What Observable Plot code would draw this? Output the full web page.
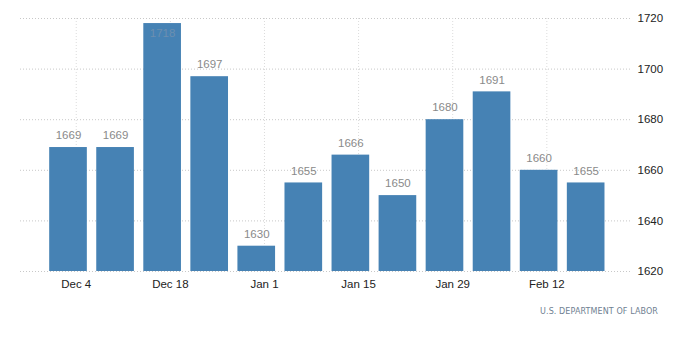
<!DOCTYPE html>
<html>
<head>
<meta charset="utf-8">
<script src="https://cdn.jsdelivr.net/npm/d3@7"></script>
<script src="https://cdn.jsdelivr.net/npm/@observablehq/plot@0.6"></script>
<style>
  body { margin: 0; background: #fff; font-family: "Liberation Sans", Arial, sans-serif; }
  #wrap { position: relative; width: 700px; height: 362px; }
  #caption { position: absolute; right: 42px; top: 307px; font-size: 8px; letter-spacing: 0.1px; color: #6f7f92; font-family: "DejaVu Sans", sans-serif; }
</style>
</head>
<body>
<div id="wrap">
  <div id="chart"></div>
  <div id="caption">U.S. DEPARTMENT OF LABOR</div>
</div>
<script>
const dates = ["2021-12-04","2021-12-11","2021-12-18","2021-12-25","2022-01-01","2022-01-08","2022-01-15","2022-01-22","2022-01-29","2022-02-05","2022-02-12","2022-02-19"];
const values = [1669, 1669, 1718, 1697, 1630, 1655, 1666, 1650, 1680, 1691, 1660, 1655];
const xTicks = ["2021-12-04","2021-12-18","2022-01-01","2022-01-15","2022-01-29","2022-02-12"];
const yTicks = [1620, 1640, 1660, 1680, 1700, 1720];

const DAY = 864e5;
const data = dates.map((d, i) => ({date: new Date(d), value: values[i]}));

const chart = Plot.plot({
  width: 700,
  height: 296,
  marginLeft: 20,
  marginRight: 73,
  marginTop: 18,
  marginBottom: 25,
  style: {fontFamily: "'Liberation Sans', Arial, sans-serif", fontSize: "11px", background: "#fff"},
  x: {type: "utc", domain: [new Date("2021-11-25T17:00Z"), new Date("2022-02-24T00:00Z")]},
  y: {domain: [1620, 1720]},
  marks: [
    Plot.gridY(yTicks, {stroke: "#c8c8c8", strokeOpacity: 1, strokeDasharray: "1,2", x1: () => new Date("2021-11-25T17:00Z"), x2: () => new Date("2022-02-24T18:00Z"), clip: false}),
    Plot.gridX(xTicks.map(d => new Date(d)), {stroke: "#dcdcdc", strokeOpacity: 1, strokeDasharray: "1,2", y1: 1620, y2: 1720}),
    Plot.rectY(data, {
      x1: d => new Date(+d.date - 3.95 * DAY),
      x2: d => new Date(+d.date + 1.65 * DAY),
      y1: 1620,
      y2: "value",
      fill: "#4682b4"
    }),
    Plot.text(data.filter(d => d.value < 1712), {x: d => new Date(+d.date - 1.15 * DAY), y: "value", text: d => String(d.value), dy: -12, fill: "#8a8a8a", fontSize: 11.5}),
    Plot.text(data.filter(d => d.value >= 1712), {x: d => new Date(+d.date - 1.15 * DAY), y: "value", text: d => String(d.value), dy: 10, fill: "#6c8fb0", fontSize: 11.5}),
    Plot.axisX(xTicks.map(d => new Date(d)), {tickSize: 0, tickPadding: 8, tickFormat: d3.utcFormat("%b %-d"), fill: "#222", fontSize: 11.5, label: null}),
    Plot.axisY(yTicks, {anchor: "right", tickSize: 0, tickPadding: 10, tickFormat: d => String(d), fill: "#222", fontSize: 11.5, label: null})
  ]
});
document.getElementById("chart").appendChild(chart);
</script>
</body>
</html>
